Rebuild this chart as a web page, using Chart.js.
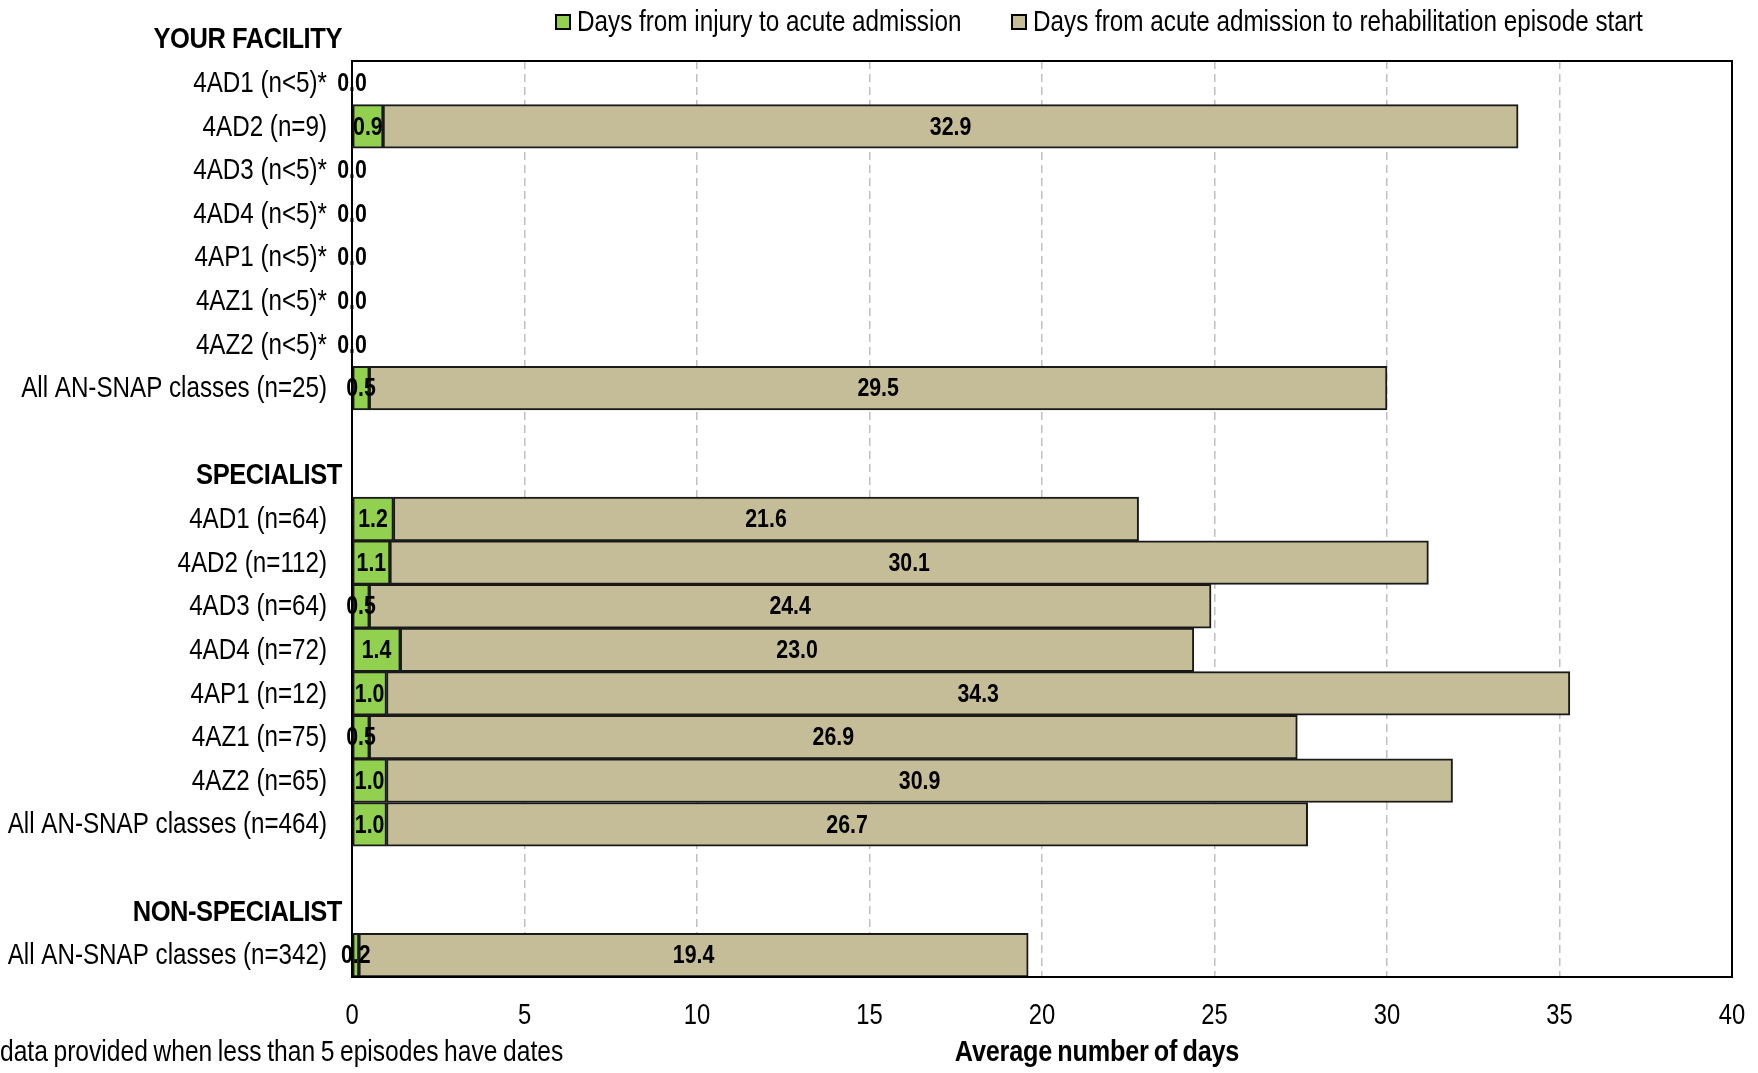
<!DOCTYPE html>
<html>
<head>
<meta charset="utf-8">
<script src="https://cdn.jsdelivr.net/npm/chart.js@4.4.1/dist/chart.umd.min.js"></script>
<style>
  html, body { margin: 0; padding: 0; background: #ffffff; }
  #wrap { width: 1758px; height: 1073px; position: relative; }
</style>
</head>
<body>
<div id="wrap"><canvas id="c"></canvas></div>
<script>
// ---- data ----
const categories = [
  '4AD1 (n<5)*', '4AD2 (n=9)', '4AD3 (n<5)*', '4AD4 (n<5)*', '4AP1 (n<5)*', '4AZ1 (n<5)*', '4AZ2 (n<5)*',
  'All AN-SNAP classes (n=25)',
  '',
  'SPECIALIST',
  '4AD1 (n=64)', '4AD2 (n=112)', '4AD3 (n=64)', '4AD4 (n=72)', '4AP1 (n=12)', '4AZ1 (n=75)', '4AZ2 (n=65)',
  'All AN-SNAP classes (n=464)',
  '',
  'NON-SPECIALIST',
  'All AN-SNAP classes (n=342)'
];
const sectionHeaders = ['YOUR FACILITY', 'SPECIALIST', 'NON-SPECIALIST'];
const injuryToAcute = [0, 0.9, 0, 0, 0, 0, 0, 0.5, null, null, 1.2, 1.1, 0.5, 1.4, 1.0, 0.5, 1.0, 1.0, null, null, 0.2];
const acuteToRehab  = [0, 32.9, 0, 0, 0, 0, 0, 29.5, null, null, 21.6, 30.1, 24.4, 23.0, 34.3, 26.9, 30.9, 26.7, null, null, 19.4];
const seriesLabels = ['Days from injury to acute admission', 'Days from acute admission to rehabilitation episode start'];
const xTickValues = [0, 5, 10, 15, 20, 25, 30, 35, 40];
const xTitle = 'Average number of days';
const footnote = 'data provided when less than 5 episodes have dates';

// ---- styles ----
const FAM = '"Liberation Sans", Arial, sans-serif';
const NARROW = 0.82;
const GREEN = '#92D050';
const TAN = '#C4BD97';
const EDGE = '#1a1a1a';

function drawText(ctx, s, x, y, opt) {
  ctx.save();
  ctx.translate(x, y);
  ctx.scale(opt.sx || NARROW, 1);
  ctx.font = (opt.bold ? 'bold ' : '') + opt.size + 'px ' + FAM;
  ctx.fillStyle = '#000';
  ctx.textAlign = opt.align || 'left';
  ctx.textBaseline = 'middle';
  if (opt.ls !== undefined) { try { ctx.letterSpacing = opt.ls + 'px'; } catch (e) {} }
  if (opt.ws !== undefined) { try { ctx.wordSpacing = opt.ws + 'px'; } catch (e) {} }
  ctx.fillText(s, 0, 0);
  ctx.restore();
}

const overlayPlugin = {
  id: 'overlay',
  afterDatasetsDraw(chart) {
    const ctx = chart.ctx;
    const area = chart.chartArea;
    // plot border
    ctx.save();
    ctx.strokeStyle = '#000';
    ctx.lineWidth = 2;
    ctx.strokeRect(area.left, area.top, area.right - area.left, area.bottom - area.top);
    ctx.restore();
    // value labels
    chart.data.datasets.forEach((ds, di) => {
      const meta = chart.getDatasetMeta(di);
      meta.data.forEach((el, i) => {
        const v = ds.data[i];
        if (v === null || v === undefined) return;
        if (di === 1 && v === 0) return;
        const cx = (el.x + el.base) / 2;
        drawText(ctx, v.toFixed(1), cx, el.y + 1, { size: 26, bold: true, align: 'center' });
      });
    });
  },
  afterDraw(chart) {
    const ctx = chart.ctx;
    const area = chart.chartArea;
    const ys = chart.scales.y;
    const xs = chart.scales.x;
    const step = ys.getPixelForValue(1) - ys.getPixelForValue(0);
    // category labels
    categories.forEach((c, i) => {
      if (!c || sectionHeaders.includes(c)) return;
      drawText(ctx, c, area.left - 25, ys.getPixelForValue(i) + 1, { size: 29.5, align: 'right' });
    });
    // section headers
    sectionHeaders.forEach(h => {
      const idx = categories.indexOf(h);
      const y = idx >= 0 ? ys.getPixelForValue(idx) : ys.getPixelForValue(0) - step;
      drawText(ctx, h, area.left - 10, y + 1, { size: 29, bold: true, align: 'right', sx: 0.88, ls: -0.5 });
    });
    // x tick labels
    xTickValues.forEach(v => {
      drawText(ctx, String(v), xs.getPixelForValue(v), 1016, { size: 29, align: 'center' });
    });
    // legend
    const legendX = [556, 1012];
    const legendColors = [GREEN, TAN];
    const ly = 22;
    seriesLabels.forEach((t, i) => {
      ctx.save();
      ctx.fillStyle = legendColors[i];
      ctx.fillRect(legendX[i], ly - 7, 14, 14);
      ctx.strokeStyle = '#000';
      ctx.lineWidth = 2;
      ctx.strokeRect(legendX[i], ly - 7, 14, 14);
      ctx.restore();
      drawText(ctx, t, legendX[i] + 21, ly + 1, { size: 29.6 });
    });
    // x title & footnote
    drawText(ctx, xTitle, 1097, 1053, { size: 29, bold: true, align: 'center', sx: 0.87, ls: -0.2, ws: -2 });
    drawText(ctx, footnote, 0, 1053, { size: 30, ws: -1.5 });
  }
};

new Chart(document.getElementById('c'), {
  type: 'bar',
  data: {
    labels: categories,
    datasets: [
      {
        label: seriesLabels[0],
        data: injuryToAcute,
        backgroundColor: GREEN,
        borderColor: EDGE,
        borderWidth: (c) => (c.raw ? 2 : 0),
        borderSkipped: false
      },
      {
        label: seriesLabels[1],
        data: acuteToRehab,
        backgroundColor: TAN,
        borderColor: EDGE,
        borderWidth: (c) => (c.raw ? 2 : 0),
        borderSkipped: false
      }
    ]
  },
  options: {
    indexAxis: 'y',
    responsive: true,
    maintainAspectRatio: false,
    animation: false,
    layout: { padding: { left: 0, top: 61, right: 26, bottom: 0 } },
    datasets: { bar: { barPercentage: 1.0, categoryPercentage: 1.0 } },
    plugins: {
      legend: { display: false },
      tooltip: { enabled: false },
      title: { display: false }
    },
    scales: {
      x: {
        stacked: true,
        min: 0,
        max: 40,
        afterBuildTicks: (s) => { s.ticks = xTickValues.map(v => ({ value: v })); },
        afterFit: (s) => { s.height = 96; },
        grid: {
          color: (c) => (c.tick && (c.tick.value === 0 || c.tick.value === 40) ? 'rgba(0,0,0,0)' : '#c0c0c0'),
          lineWidth: 1.5,
          drawTicks: false,
          tickLength: 0
        },
        border: { display: false, dash: [8, 5] },
        ticks: { display: false }
      },
      y: {
        stacked: true,
        afterFit: (s) => { s.width = 352; },
        grid: { display: false, drawTicks: false, tickLength: 0 },
        border: { display: false },
        ticks: { display: false, autoSkip: false }
      }
    }
  },
  plugins: [overlayPlugin]
});
</script>
</body>
</html>
